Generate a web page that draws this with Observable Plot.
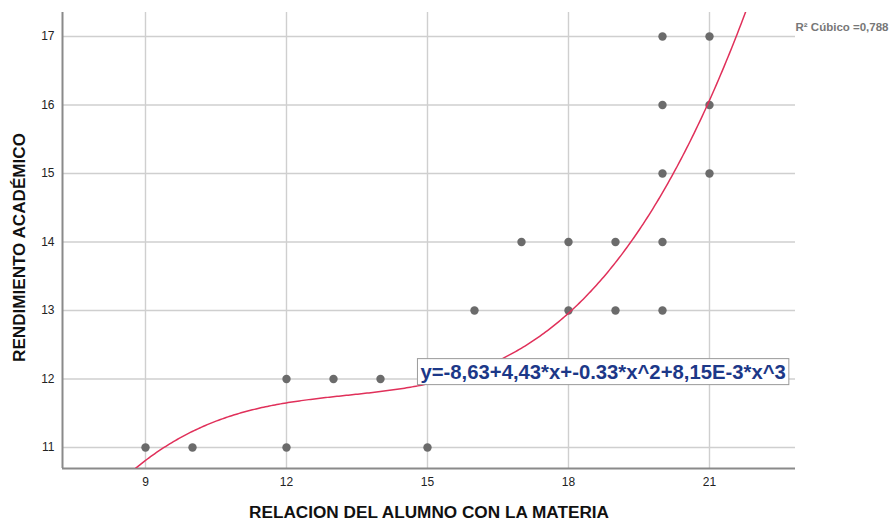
<!DOCTYPE html>
<html>
<head>
<meta charset="utf-8">
<script src="https://cdn.jsdelivr.net/npm/d3@7"></script>
<script src="https://cdn.jsdelivr.net/npm/@observablehq/plot@0.6"></script>
<style>
  html, body { margin: 0; padding: 0; background: #fff; }
  #chart { width: 890px; height: 521px; }
</style>
</head>
<body>
<div id="chart"></div>
<script>
// Observed points (visible in the reference)
const relacion    = [9, 10, 12, 15, 12, 13, 14, 16, 18, 19, 20, 17, 18, 19, 20, 20, 21, 20, 21, 20, 21];
const rendimiento = [11, 11, 11, 11, 12, 12, 12, 13, 13, 13, 13, 14, 14, 14, 14, 15, 15, 16, 16, 17, 17];
const xTicks = [9, 12, 15, 18, 21];
const yTicks = [11, 12, 13, 14, 15, 16, 17];
const xDomain = [7.234, 22.83];
const yDomain = [10.693, 17.35];
// Cubic fit coefficients (a + b x + c x^2 + d x^3), as drawn
const fitCoef = [-8.30, 4.386, -0.32475, 0.00815];
const eqText = "y=-8,63+4,43*x+-0.33*x^2+8,15E-3*x^3";
const r2Text = "R² Cúbico =0,788";
const xTitle = "RELACION DEL ALUMNO CON LA MATERIA";
const yTitle = "RENDIMIENTO ACADÉMICO";

const points = relacion.map((x, i) => ({x, y: rendimiento[i]}));
const curve = d3.range(xDomain[0], xDomain[1] + 0.001, 0.04).map(x => ({
  x, y: fitCoef[0] + fitCoef[1]*x + fitCoef[2]*x*x + fitCoef[3]*x*x*x
}));

const chart = Plot.plot({
  width: 890,
  height: 521,
  marginLeft: 62,
  marginRight: 95,
  marginTop: 12,
  marginBottom: 53,
  style: {fontFamily: "'Liberation Sans', Arial, sans-serif", fontSize: "12px", color: "#222", background: "#fff"},
  x: {domain: xDomain, ticks: xTicks, label: null},
  y: {domain: yDomain, ticks: yTicks, label: null},
  marks: [
    Plot.gridX(xTicks, {stroke: "#cfcfcf", strokeOpacity: 1, strokeWidth: 1.4}),
    Plot.gridY(yTicks, {stroke: "#cfcfcf", strokeOpacity: 1, strokeWidth: 1.4}),
    Plot.axisX(xTicks, {tickSize: 0, tickPadding: 9, fontSize: 12, fill: "#222", label: null, tickFormat: d3.format("d")}),
    Plot.axisY(yTicks, {tickSize: 0, tickPadding: 8, fontSize: 12, fill: "#222", label: null, tickFormat: d3.format("d")}),
    Plot.ruleX([xDomain[0]], {stroke: "#8a8a8a", strokeWidth: 2}),
    Plot.ruleY([yDomain[0]], {stroke: "#8a8a8a", strokeWidth: 2}),
    Plot.dot(points, {x: "x", y: "y", r: 4.2, fill: "#6b6b6b", stroke: "none"}),
    Plot.line(curve, {x: "x", y: "y", stroke: "#e0305a", strokeWidth: 1.5, clip: true}),
    Plot.text([eqText], {x: () => 14.85, y: () => 12.1, text: d => d, textAnchor: "start",
      fontSize: 20.3, fontWeight: "bold", fill: "#1c3888", className: "eqlabel"}),
    Plot.text([r2Text], {frameAnchor: "top-right", text: d => d, textAnchor: "start", dx: 0, dy: 10,
      fontSize: 11.5, fontWeight: "bold", fill: "#777"}),
    Plot.text([xTitle], {frameAnchor: "bottom", text: d => d, textAnchor: "middle", dy: 49, fontSize: 17.2, fontWeight: "bold", fill: "#111"}),
    Plot.text([yTitle], {frameAnchor: "left", text: d => d, textAnchor: "middle", rotate: -90, dx: -43, dy: 7, fontSize: 17.1, fontWeight: "bold", fill: "#111"})
  ]
});
document.getElementById("chart").appendChild(chart);

// Box behind the equation label, sized from the rendered text
const t = chart.querySelector("g.eqlabel text");
if (t) {
  const bb = t.getBBox();
  const ns = "http://www.w3.org/2000/svg";
  const rect = document.createElementNS(ns, "rect");
  rect.setAttribute("x", bb.x - 3);
  rect.setAttribute("y", bb.y - 2);
  rect.setAttribute("width", bb.width + 6);
  rect.setAttribute("height", bb.height + 4);
  rect.setAttribute("fill", "#fff");
  rect.setAttribute("stroke", "#9a9a9a");
  rect.setAttribute("stroke-width", "1");
  const g = t.parentNode;
  g.insertBefore(rect, t);
  if (t.getAttribute("transform")) rect.setAttribute("transform", t.getAttribute("transform"));
}
</script>
</body>
</html>
